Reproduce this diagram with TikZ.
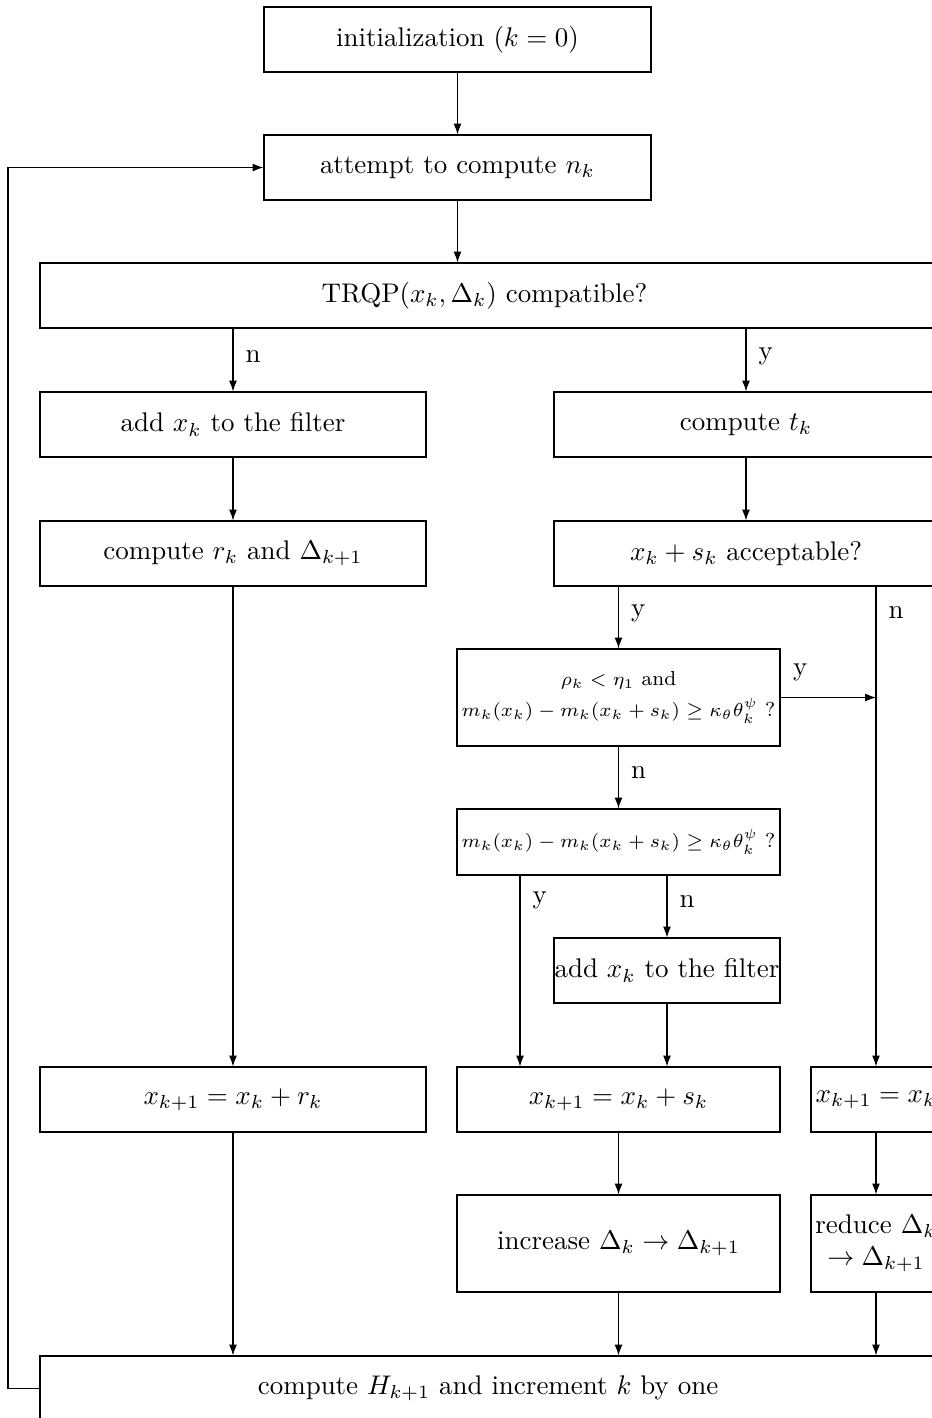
\documentclass[tikz,border=0pt]{standalone}
\usetikzlibrary{arrows.meta,calc}
\def\pxu{0.371pt}
\begin{document}
\begin{tikzpicture}[x=0.371pt,y=-0.371pt,
  box/.style={draw, rectangle, inner sep=0pt, align=center, minimum height=65*\pxu},
  tall/.style={minimum height=97*\pxu},
  small/.style={font=\fontsize{7.5}{9.5}\selectfont},
  arr/.style={-{Latex[length=4pt,width=2.9pt]}},
  lbl/.style={inner sep=0pt, anchor=west, xshift=4.5pt}]
\useasboundingbox (0,0) rectangle (932,1418);
\clip (0,0) rectangle (932,1418);

\node[box, minimum width=387*\pxu] (init) at (457.5,39.5) {initialization ($k=0$)};
\node[box, minimum width=387*\pxu] (attempt) at (457.5,167.5) {attempt to compute $n_k$};
\node[box, minimum width=901*\pxu] (trqp) at (490.5,295.5) {TRQP$(x_k,\Delta_k)$ compatible?\hspace{4.4pt}};
\node[box, minimum width=386*\pxu] (addL) at (233,424.5) {add $x_k$ to the filter};
\node[box, minimum width=384*\pxu] (comptk) at (746,424.5) {compute $t_k$};
\node[box, minimum width=386*\pxu] (comprk) at (233,553.5) {compute $r_k$ and $\Delta_{k+1}$};
\node[box, minimum width=384*\pxu] (accept) at (746,553.5) {$x_k+s_k$ acceptable?};
\node[box, tall, small, minimum width=323*\pxu] (rho) at (618.5,697.5)
  {$\rho_k<\eta_1$ and\\[2pt] $m_k(x_k)-m_k(x_k+s_k)\geq\kappa_\theta\theta_k^\psi$ ?};
\node[box, small, minimum width=323*\pxu, minimum height=66*\pxu] (mk) at (618.5,842)
  {$m_k(x_k)-m_k(x_k+s_k)\geq\kappa_\theta\theta_k^\psi$ ?};
\node[box, minimum width=226*\pxu] (addR) at (667,970.5) {add $x_k$ to the filter};
\node[box, minimum width=386*\pxu] (xr) at (233,1099.5) {$x_{k+1}=x_k+r_k$};
\node[box, minimum width=323*\pxu] (xs) at (618.5,1099.5) {$x_{k+1}=x_k+s_k$};
\node[box, minimum width=130*\pxu] (xk) at (876,1099.5) {$x_{k+1}=x_k$};
\node[box, tall, minimum width=323*\pxu] (inc) at (618.5,1243.5) {increase $\Delta_k\to\Delta_{k+1}$};
\node[box, tall, minimum width=130*\pxu] (red) at (876,1243.5) {reduce $\Delta_k$\\ $\to\Delta_{k+1}$};
\node[box, minimum width=900*\pxu] (H) at (490,1388.5) {compute $H_{k+1}$ and increment $k$ by one\hspace{1.4pt}};

\coordinate (ycol) at (520,0);
\coordinate (loopx) at (8,0);

\draw[arr] (init.south) -- (attempt.north);
\draw[arr] (attempt.south) -- (trqp.north -| attempt.south);
\draw[arr] (trqp.south -| addL.north) -- node[lbl, pos=0.44] {n} (addL.north);
\draw[arr] (trqp.south -| comptk.north) -- node[lbl, pos=0.44] {y} (comptk.north);
\draw[arr] (addL.south) -- (comprk.north);
\draw[arr] (comptk.south) -- (accept.north);
\draw[arr] (comprk.south) -- (xr.north);
\draw[arr] (accept.south -| rho.north) -- node[lbl, pos=0.44] {y} (rho.north);
\draw[arr] (accept.south -| xk.north) -- node[lbl, pos=0.054] {n} (xk.north);
\draw[arr] (rho.east) -- node[inner sep=0pt, anchor=south west, pos=0, xshift=4.5pt, yshift=6pt] {y} (rho.east -| xk.north);
\draw[arr] (rho.south) -- node[lbl, pos=0.42] {n} (mk.north);
\draw[arr] (mk.south -| ycol) -- node[lbl, pos=0.13] {y} (xs.north -| ycol);
\draw[arr] (mk.south -| addR.north) -- node[lbl, pos=0.42] {n} (addR.north);
\draw[arr] (addR.south) -- (xs.north -| addR.south);
\draw[arr] (xr.south) -- (H.north -| xr.south);
\draw[arr] (xs.south) -- (inc.north);
\draw[arr] (inc.south) -- (H.north -| inc.south);
\draw[arr] (xk.south) -- (red.north);
\draw[arr] (red.south) -- (H.north -| red.south);
\draw[arr] (H.west) -- (H.west -| loopx) |- (attempt.west);
\end{tikzpicture}
\end{document}
